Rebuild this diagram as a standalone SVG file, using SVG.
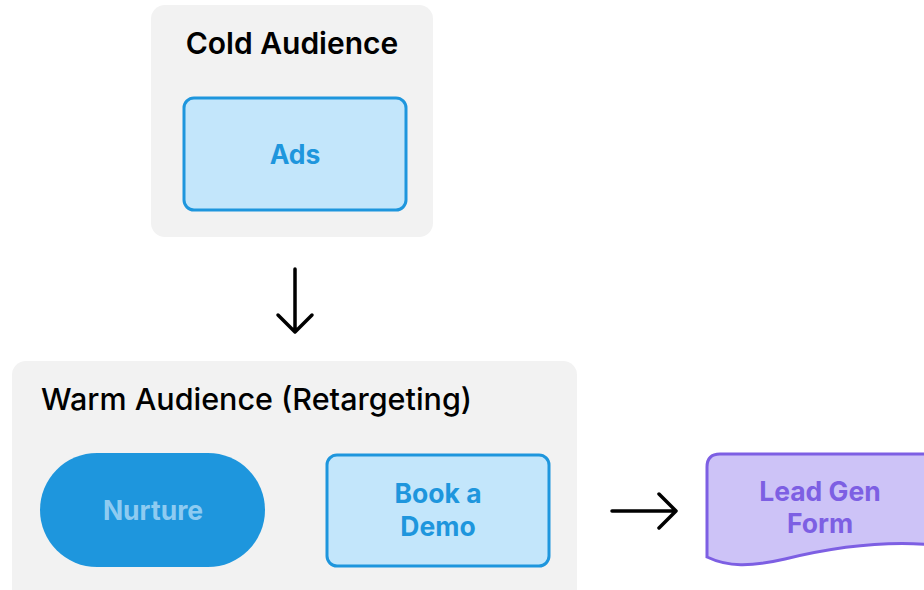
<svg xmlns="http://www.w3.org/2000/svg" width="924" height="590" viewBox="0 0 924 590">
<style>
.group{fill:#f2f2f2}
.title{font-family:Inter,"Liberation Sans",sans-serif;font-size:30px;fill:#000}
.box{fill:#c3e6fb;stroke:#1e96dd;stroke-width:3}
.lbl{font-family:Inter,"Liberation Sans",sans-serif;font-size:26.5px;font-weight:700;text-anchor:middle}
.arrow{fill:none;stroke:#000;stroke-width:3.5;stroke-linecap:round;stroke-linejoin:round}
</style>
<rect width="924" height="590" fill="#fff"/>
<g id="cold">
<rect class="group" x="151" y="5" width="282" height="232" rx="14"/>
<text class="title" x="292" y="54" text-anchor="middle" font-weight="600">Cold Audience</text>
</g>
<g id="ads">
<rect class="box" x="184" y="98" width="222" height="112" rx="10"/>
<text class="lbl" x="295" y="164" fill="#1e96dd">Ads</text>
</g>
<g id="warm">
<rect class="group" x="12" y="361" width="565" height="245" rx="14"/>
<text class="title" x="41" y="410" font-weight="500" style="font-size:30.5px">Warm Audience (Retargeting)</text>
</g>
<g id="nurture">
<rect x="40" y="453" width="225" height="114" rx="57" fill="#1e96dd"/>
<text class="lbl" x="153" y="520" fill="#8ecbf1">Nurture</text>
</g>
<g id="demo">
<rect class="box" x="327" y="455" width="222" height="111" rx="10"/>
<text class="lbl" x="438" y="503" fill="#1e96dd">Book a</text>
<text class="lbl" x="438" y="536" fill="#1e96dd">Demo</text>
</g>
<g id="leadgen">
<path d="M707,467 Q707,454 720,454 L934,454 L934,545 C880,540 830,548 785,559 C750,567 728,567 707,557 Z" fill="#cdc3f7" stroke="#7d5fe3" stroke-width="3"/>
<text class="lbl" x="820" y="501" fill="#7d5fe3">Lead Gen</text>
<text class="lbl" x="820" y="533" fill="#7d5fe3">Form</text>
</g>
<g id="connectors">
<path class="arrow" d="M295,269 V331 M278,315 L295,332 L312,315"/>
<path class="arrow" d="M612,511 H675 M659,494 L676,511 L659,528"/>
</g>
</svg>
